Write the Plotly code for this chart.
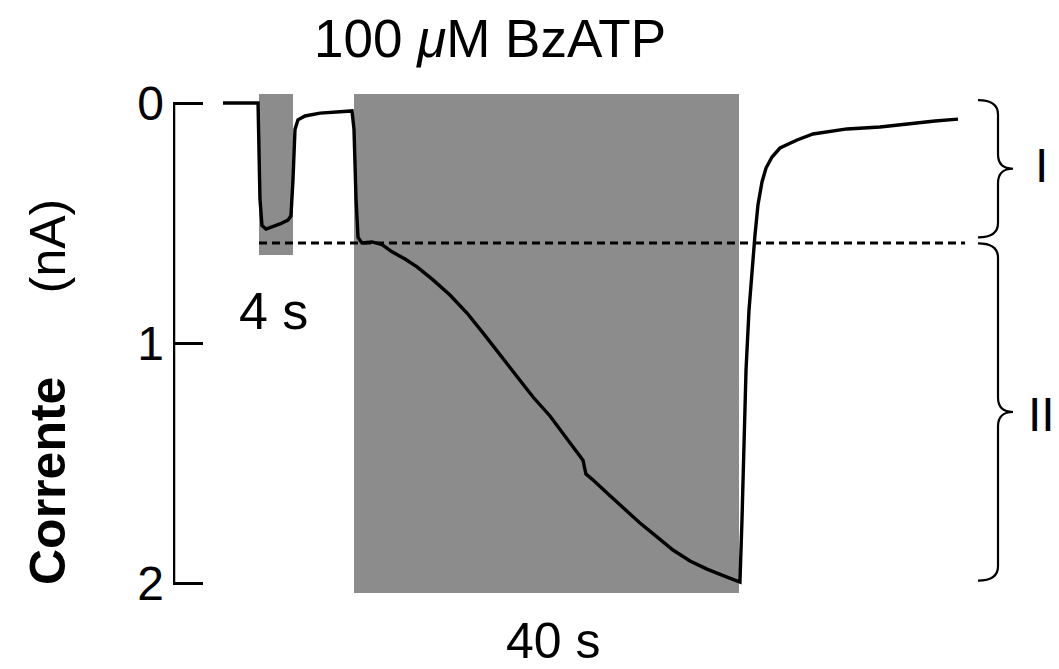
import plotly.graph_objects as go

# ---- data: time (s) and current (nA, inward positive downward) ----
time_s = [0.0, 3.64, 3.84, 4.05, 4.47, 5.09, 5.92, 6.75, 7.06, 7.27, 7.48, 7.79, 8.52,
          10.08, 12.16, 13.40, 13.61, 13.82, 14.03, 14.44, 15.48, 16.52, 17.56, 18.91,
          20.16, 21.82, 23.58, 25.35, 27.01, 28.78, 30.55, 32.21, 33.97, 35.74, 37.40,
          37.71, 38.34, 39.90, 41.56, 43.32, 45.09, 46.75, 48.52, 50.29, 51.84, 53.40,
          53.71, 53.92, 54.13, 54.34, 54.65, 54.96, 55.27, 55.58, 56.00, 56.42, 57.04,
          57.87, 59.64, 61.30, 64.83, 68.26, 71.69, 73.97, 76.36]
current_nA = [0.0, 0.0, 0.40, 0.51, 0.525, 0.517, 0.504, 0.488, 0.47, 0.32, 0.11, 0.07, 0.054,
              0.042, 0.0375, 0.033, 0.11, 0.40, 0.56, 0.583, 0.579, 0.59, 0.62, 0.65,
              0.683, 0.737, 0.80, 0.875, 0.958, 1.05, 1.142, 1.225, 1.304, 1.396, 1.488,
              1.546, 1.567, 1.625, 1.6875, 1.75, 1.808, 1.8625, 1.908, 1.942, 1.967, 1.99,
              1.996, 1.7375, 1.3625, 1.1125, 0.8625, 0.696, 0.55, 0.425, 0.329, 0.271, 0.225,
              0.1875, 0.154, 0.129, 0.108, 0.10, 0.083, 0.075, 0.067]

# agonist applications (start, end in s)
app_short = [3.74, 7.27]
app_long = [13.61, 53.61]
peak_short = 0.583          # dashed reference level (nA)
y_ticks = [0, 1, 2]
y_ticklabels = ["0", "1", "2"]

FONT = "Liberation Sans, Arial, Helvetica, sans-serif"
GRAY = "rgb(140,140,140)"

x_range = [-5.195, 86.857]
y_range = [2.1333, -0.1792]

fig = go.Figure()
fig.add_trace(go.Scatter(x=time_s, y=current_nA, mode="lines",
                         line=dict(color="black", width=3.4), showlegend=False,
                         hoverinfo="skip"))

shapes = []
# gray application bars
shapes.append(dict(type="rect", xref="x", yref="y", x0=app_short[0], x1=app_short[1],
                   y0=-0.0375, y1=0.633, fillcolor=GRAY, line=dict(width=0), layer="below"))
shapes.append(dict(type="rect", xref="x", yref="y", x0=app_long[0], x1=app_long[1],
                   y0=-0.0375, y1=2.042, fillcolor=GRAY, line=dict(width=0), layer="below"))
# dashed level line
shapes.append(dict(type="line", xref="x", yref="y", x0=app_short[0], x1=77.1,
                   y0=peak_short, y1=peak_short,
                   line=dict(color="black", width=3, dash="8px,5px")))
# y axis bracket line
shapes.append(dict(type="line", xref="x", yref="y", x0=-5.09, x1=-5.09, y0=0, y1=2,
                   line=dict(color="black", width=2.5)))


def brace(ya, yb, x0=78.44, xs=80.52, xt=82.08, r=0.06):
    ym = (ya + yb) / 2
    return (f"M {x0},{ya} Q {xs},{ya} {xs},{ya + r} L {xs},{ym - r} "
            f"Q {xs},{ym} {xt},{ym} Q {xs},{ym} {xs},{ym + r} "
            f"L {xs},{yb - r} Q {xs},{yb} {x0},{yb}")


shapes.append(dict(type="path", xref="x", yref="y", path=brace(-0.012, 0.56),
                   line=dict(color="black", width=2.2)))
shapes.append(dict(type="path", xref="x", yref="y", path=brace(0.585, 1.99),
                   line=dict(color="black", width=2.2)))


def label(text, x, y, size=50, angle=0):
    return dict(text=text, x=x, y=y, xref="paper", yref="paper", xanchor="center",
                yanchor="middle", textangle=angle, showarrow=False,
                font=dict(size=size, family=FONT, color="black"))


annotations = [
    label("100 <i>μ</i>M BzATP", 0.3578, 1.0396, size=53),
    label("4 s", 0.1129, 0.5477, size=52),
    label("40 s", 0.430, -0.0469, size=50),
    label("<b>Corrente</b>\u00a0\u00a0\u00a0\u00a0\u00a0\u00a0(nA)", -0.1411, 0.4018,
          size=50, angle=-90),
    label("I", 0.9797, 0.8108, size=48),
    label("II", 0.9808, 0.3604, size=48),
]

fig.update_layout(
    width=1059, height=669,
    margin=dict(l=165, r=8, t=52, b=62, pad=0),
    paper_bgcolor="white", plot_bgcolor="white",
    shapes=shapes, annotations=annotations,
    showlegend=False,
    xaxis=dict(range=x_range, visible=False, showgrid=False, zeroline=False),
    yaxis=dict(range=y_range, tickvals=y_ticks, ticktext=y_ticklabels,
               ticks="inside", ticklen=30, tickwidth=2.5, tickcolor="black",
               ticklabelstandoff=8,
               showline=False, showgrid=False, zeroline=False,
               tickfont=dict(size=48, family=FONT, color="black")),
)

fig.write_html("out.html")
